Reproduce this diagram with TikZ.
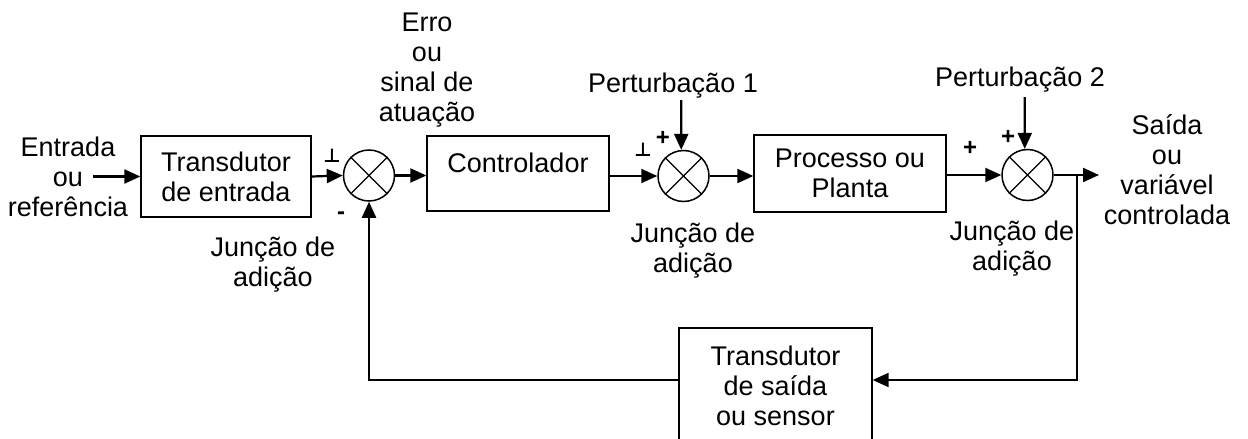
\documentclass[tikz,border=0pt]{standalone}
\usepackage{fontspec}
\setmainfont{Liberation Sans}
\newfontfamily\symfont{DejaVu Sans}
\usetikzlibrary{arrows.meta}
\begin{document}
\begin{tikzpicture}[x=1pt,y=-1pt,
  every node/.style={font=\fontsize{27}{30}\selectfont, inner sep=0pt, align=center},
  blk/.style={draw, line width=1.3pt},
  sumj/.style={draw, circle, line width=1.5pt, minimum size=51pt},
  conn/.style={line width=2.2pt, -{Triangle[length=16pt,width=14pt]}},
  sgn/.style={font=\fontsize{24}{24}\selectfont\bfseries},
  perp/.style={font=\symfont\fontsize{19}{19}\selectfont\bfseries}
]
\clip (0,0) rectangle (1248,439);
\fill[white] (0,0) rectangle (1248,439);

% blocks
\node[blk, minimum width=170pt, minimum height=81pt] (tin) at (226,176.5) {Transdutor\\de entrada};
\node[blk, minimum width=182pt, minimum height=75pt] (ctrl) at (518,173.5) {};
\node (ctrltxt) at (518,163) {Controlador};
\node[blk, minimum width=192pt, minimum height=77pt] (proc) at (850,173.5) {Processo ou\\Planta};
\node[blk, minimum width=193pt, minimum height=124pt] (sens) at (775.5,390) {};
\node (senstxt) at (775.5,386) {Transdutor\\de saída\\ou sensor};

% summing junctions
\foreach \n/\x/\y in {s1/369/175.5, s2/683.5/176, s3/1027.5/175}{
  \node[sumj] (\n) at (\x,\y) {};
  \draw[line width=1.2pt] (\n.45) -- (\n.225) (\n.135) -- (\n.315);
}

% text labels
\node (inp) at (68,177) {Entrada\\ou\\referência};
\node (erro) at (427,70) {Erro\\ou\\sinal de\\atuação};
\node (j1) at (273,265) {Junção de\\adição};
\node (j2) at (693,251) {Junção de\\adição};
\node (j3) at (1012,249) {Junção de\\adição};
\node (outp) at (1167,170) {Saída\\ou\\variável\\controlada};
\node (p1) at (673,86) {Perturbação 1};
\node (p2) at (1020,80) {Perturbação 2};

% signs at the junction inputs
\node[perp] (g1) at (332,156) {⊥};
\node[sgn] (g2) at (341,216) {-};
\node[perp] (g3) at (643,150) {⊥};
\node[sgn] (g4) at (663,138) {+};
\node[sgn] (g5) at (970,148) {+};
\node[sgn] (g6) at (1008,137) {+};

% signal path
\coordinate (inA) at (93,176.5);
\coordinate (outA) at (1099,175);
\coordinate (fb1) at (1077,175);
\coordinate (fb2) at (1077,380);
\coordinate (fb3) at (369,380);
\coordinate (p1a) at (681.3,100);
\coordinate (p2a) at (1024.8,97);

\draw[conn] (inA) -- (tin.west);
\draw[conn] (tin.east) -- (s1.west);
\draw[conn] (s1.east) -- (s1.east -| ctrl.west);
\draw[conn] (ctrl.east |- s2.west) -- (s2.west);
\draw[conn] (s2.east) -- (s2.east -| proc.west);
\draw[conn] (proc.east |- s3.west) -- (s3.west);
\draw[conn] (s3.east) -- (outA);
\draw[conn] (fb1) -- (fb2) -- (fb2 -| sens.east);
\draw[conn] (fb3 -| sens.west) -- (fb3) -- (s1.south);
\draw[conn] (p1a) -- (s2.95);
\draw[conn] (p2a) -- (s3.96);
\end{tikzpicture}
\end{document}
